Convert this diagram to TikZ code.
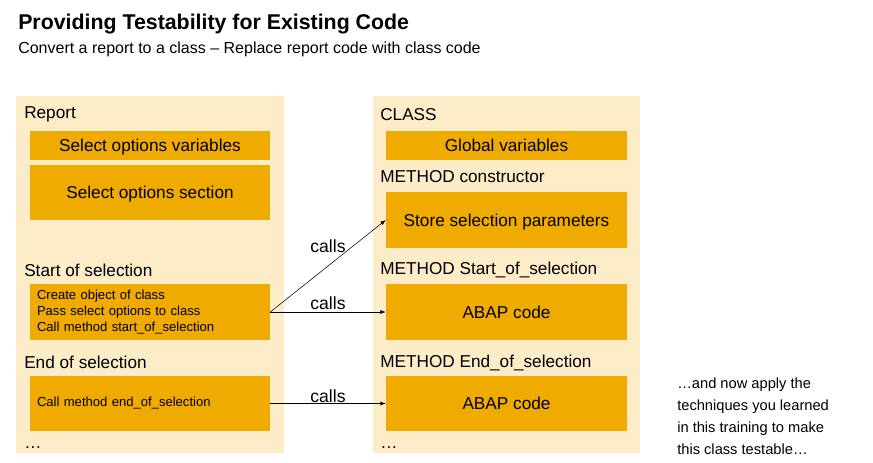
\documentclass[tikz,border=0pt]{standalone}
\usepackage{fontspec}
\setmainfont{Liberation Sans}
\usetikzlibrary{positioning}

\definecolor{panelbg}{RGB}{253,236,200}
\definecolor{boxgold}{RGB}{240,171,0}

\tikzset{
	panel/.style={fill=panelbg, draw=none},
	codebox/.style={fill=boxgold, draw=none, minimum width=180pt, text depth=0pt, font=\fontsize{12.9}{15}\selectfont},
	small/.style={align=left, text width=169.5pt, inner xsep=5.25pt, text depth=, font=\fontsize{9.8}{12}\selectfont},
	heading/.style={anchor=west, inner sep=0pt, font=\fontsize{12.9}{15}\selectfont},
	calls/.style={inner sep=1pt, font=\fontsize{13.2}{15}\selectfont}
}

\begin{document}
\begin{tikzpicture}[x=0.75pt, y=-0.75pt]

	\useasboundingbox (0,0) rectangle (873,462);

	% Title
	\node[anchor=west, inner sep=0pt, font=\fontsize{16}{19}\bfseries] (title) at (18,24) {Providing Testability for Existing Code};
	\node[anchor=west, inner sep=0pt, font=\fontsize{12}{14}\selectfont] (subtitle) at (18,49) {Convert a report to a class -- Replace report code with class code};

	% Left panel: report
	\fill[panel] (16,96) rectangle (284,453);
	\node[heading] (report) at (24,114.5) {Report};
	\node[codebox, minimum height=21.75pt] (selvar) at (150,145.5) {Select options variables};
	\node[codebox, minimum height=41.25pt] (selsec) at (150,192.5) {Select options section};
	\node[heading] (startlbl) at (24,270.5) {Start of selection};
	\node[codebox, small, minimum height=42pt] (startbox) at (150,312) {Create object of class\\Pass select options to class\\Call method start\_of\_selection};
	\node[heading] (endlbl) at (24,362.5) {End of selection};
	\node[codebox, small, minimum height=41.25pt] (endbox) at (150,403.5) {Call method end\_of\_selection};
	\node[heading] (leftdots) at (24,448) {…};

	% Right panel: class
	\fill[panel] (373,96) rectangle (640,453);
	\node[heading] (class) at (380,114.5) {CLASS};
	\node[codebox, minimum width=180.75pt, minimum height=21.75pt] (globvar) at (506.5,145.5) {Global variables};
	\node[heading] (constr) at (380,176.5) {METHOD constructor};
	\node[codebox, minimum width=180.75pt, minimum height=42pt] (store) at (506.5,220) {Store selection parameters};
	\node[heading] (startmeth) at (380,269.5) {METHOD Start\_of\_selection};
	\node[codebox, minimum width=180.75pt, minimum height=42pt] (abapstart) at (506.5,312) {ABAP code};
	\node[heading] (endmeth) at (380,362.5) {METHOD End\_of\_selection};
	\node[codebox, minimum width=180.75pt, minimum height=41.25pt] (abapend) at (506.5,403.5) {ABAP code};
	\node[heading] (rightdots) at (380,448) {…};

	% Calls between report and class
	\draw[-latex] (startbox.east) -- (store.west);
	\draw[-latex] (startbox.east) -- (abapstart.west);
	\draw[-latex] (endbox.east) -- (abapend.west);
	\node[calls] (calls1) at (328,246) {calls};
	\node[calls] (calls2) at (328,303) {calls};
	\node[calls] (calls3) at (328,396) {calls};

	% Closing remark
	\node[anchor=north west, inner sep=0pt, align=left, font=\fontsize{11}{16.5}\selectfont] (remark) at (677,378) {…and now apply the\\techniques you learned\\in this training to make\\this class testable…};

\end{tikzpicture}
\end{document}
